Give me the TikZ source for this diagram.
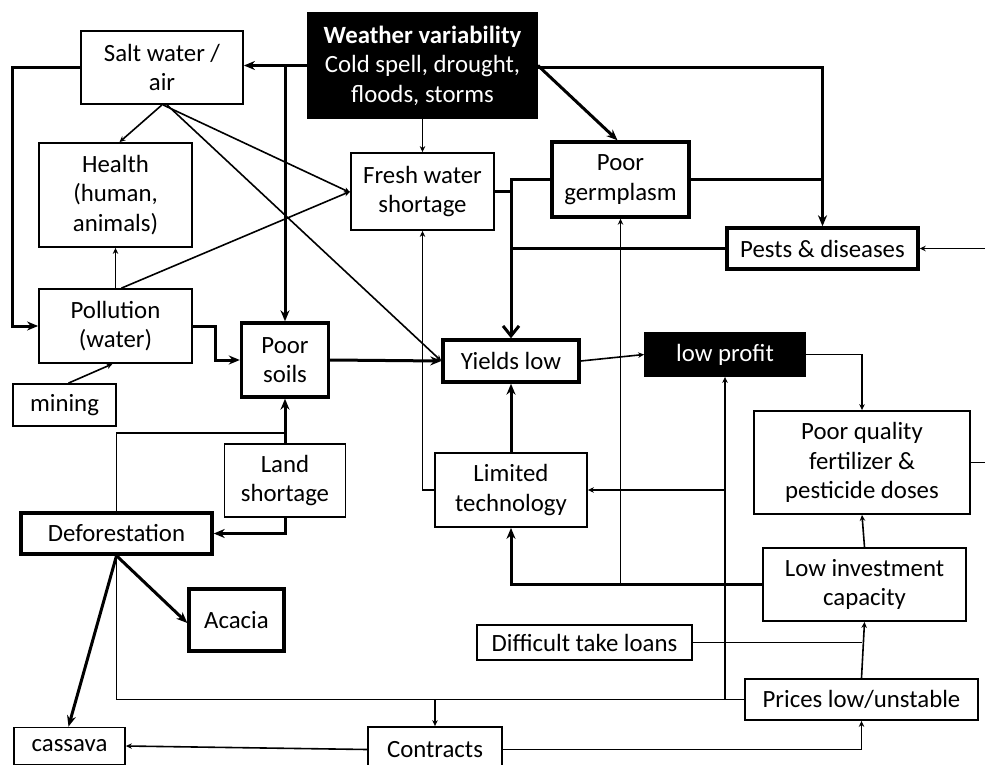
\documentclass[tikz,border=0pt]{standalone}
\usepackage{fontspec}
\setmainfont{Carlito}
\usetikzlibrary{arrows.meta,calc}
\pgfdeclarelayer{paper}
\pgfdeclarelayer{wires}
\pgfsetlayers{paper,wires,main}
\begin{document}
\begin{tikzpicture}[x=1pt,y=-1pt,
  box/.style={draw, line width=1.8pt, fill=white, align=center, inner sep=0pt, font=\fontsize{24.8}{29.5}\selectfont},
  boxk/.style={box, line width=3.4pt},
  blk/.style={box, fill=black, text=white},
  ln/.style={line width=1.6pt},
  lk/.style={line width=3pt},
  ah/.style={-{Stealth[length=6pt,width=5.5pt]}},
  ahk/.style={-{Stealth[length=11pt,width=9pt]}},
  ahv/.style={-{Straight Barb[length=10pt,width=16pt,line width=3pt]}}
]
\useasboundingbox (0,0) rectangle (985,765);
\begin{pgfonlayer}{paper}
\fill[white] (0,0) rectangle (985,765);
\end{pgfonlayer}

% nodes
\node[box, minimum width=162pt, minimum height=73pt] (salt) at (162,67.5) {Salt water /\\air};
\node[blk, minimum width=229pt, minimum height=105pt] (weather) at (422.5,65.5) {{\bfseries Weather variability}\\Cold spell, drought,\\floods, storms};
\node[box, minimum width=153pt, minimum height=104pt] (health) at (115.5,195) {Health\\(human,\\animals)};
\node[box, minimum width=143pt, minimum height=77pt] (fresh) at (422.5,191.5) {Fresh water\\shortage};
\node[boxk, minimum width=137pt, minimum height=75pt] (germ) at (620.5,179.5) {Poor\\germplasm};
\node[boxk, minimum width=191pt, minimum height=41pt] (pests) at (822.5,248.5) {Pests \& diseases};
\node[box, minimum width=153pt, minimum height=74pt] (pollution) at (115.5,326) {Pollution\\(water)};
\node[box, minimum width=103pt, minimum height=42pt] (mining) at (64.5,405) {mining};
\node[boxk, minimum width=87pt, minimum height=74pt] (soils) at (285,360) {Poor\\soils};
\node[boxk, minimum width=136pt, minimum height=42pt] (yields) at (511,361) {Yields low};
\node[blk, minimum width=160pt, minimum height=43pt] (profit) at (725,354.5) {low profit};
\node[box, minimum width=216pt, minimum height=103pt] (fert) at (862,462.5) {Poor quality\\fertilizer \&\\pesticide doses};
\node[box, minimum width=152pt, minimum height=74pt] (limtech) at (511,490) {Limited\\technology};
\node[box, minimum width=121pt, minimum height=73pt] (land) at (285,480.5) {Land\\shortage};
\node[boxk, minimum width=191pt, minimum height=41pt] (defor) at (116.5,533.5) {Deforestation};
\node[boxk, minimum width=95pt, minimum height=62pt] (acacia) at (236.5,620) {Acacia};
\node[box, minimum width=203pt, minimum height=73pt] (lowinv) at (864.5,584.5) {Low investment\\capacity};
\node[box, minimum width=215pt, minimum height=35pt] (loans) at (584.5,642.5) {Difficult take loans};
\node[box, minimum width=233pt, minimum height=41pt] (prices) at (861.5,699.5) {Prices low/unstable};
\node[box, minimum width=111pt, minimum height=37pt] (cassava) at (69.5,746) {cassava};
\node[box, minimum width=134pt, minimum height=45pt] (contracts) at (435,749.5) {Contracts};

\coordinate (ls) at (285,433);
\coordinate (rtop) at (992,248.5);
\coordinate (rbot) at (992,462.5);

\begin{pgfonlayer}{wires}
% weather
\draw[lk,ahk] (weather.west) -- (weather.west -| salt.east);
\draw[lk,ahk] (weather.west -| soils.north) -- (soils.north);
\draw[ln,ah] (weather.south) -- (fresh.north);
\draw[lk,ahk] (weather.east) -- ([xshift=-3pt]germ.north);
\draw[lk,ahk] ([yshift=-2pt]weather.east) -| (pests.north);
% salt water
\draw[lk,ahk] (salt.west) -- ++(-68,0) |- (pollution.west);
\draw[ln,ah] (salt.south) -- ([xshift=4pt]health.north);
\draw[ln,ah] ([xshift=1pt]salt.south) -- ([yshift=-1pt]fresh.west);
\draw[ln,ah] ([xshift=5pt]salt.south) -- (yields.west);
% pollution
\draw[ln,ah] (pollution.north) -- (health.south);
\draw[ln,ah] ([xshift=6pt]pollution.north) -- (fresh.west);
\draw[ln,ah] ([xshift=4pt]mining.north) -- ([xshift=-3pt]pollution.south);
\draw[lk,ahk] (pollution.east) -- ++(23,0) |- (soils.west);
\draw[lk,ahk] (soils.east) -- (yields.west);
% into yields from above
\draw[lk] (fresh.east) -- (fresh.east -| yields.north);
\draw[lk,ahv] (germ.west) -| (yields.north);
\draw[lk] (pests.west) -- (pests.west -| yields.north);
\draw[lk] (germ.east) -- (germ.east -| pests.north);
\draw[ln,ah] (rbot) -- (rtop) -- (pests.east);
\draw[ln] (fert.east) -- (rbot);
% profit
\draw[ln,ah] (yields.east) -- (profit.west);
\draw[ln,ah] (profit.east) -| (fert.north);
% limited technology
\draw[lk,ahk] (limtech.north) -- (yields.south);
\draw[ln,ah] (limtech.west) -| (fresh.south);
\draw[ln,ah] (prices.west -| profit.south) -- (profit.south);
\draw[ln,ah] (limtech.east -| profit.south) -- (limtech.east);
% low investment
\draw[lk,ahk] (lowinv.west) -| (limtech.south);
\draw[ln,ah] (lowinv.west -| germ.south) -- (germ.south);
\draw[ln,ah] (lowinv.north) -- (fert.south);
\draw[ln,ah] (prices.north) -- (lowinv.south);
\draw[ln] (loans.east) -- (loans.east -| prices.north);
% prices, contracts
\draw[ln] (prices.west) -| (defor.south);
\draw[ln] (defor.north) |- (ls);
\draw[ln,ah] (prices.west -| contracts.north) -- (contracts.north);
\draw[ln,ah] (contracts.east) -| (prices.south);
\draw[ln,ah] (contracts.west) -- (cassava.east);
% deforestation, land
\draw[lk,ahk] (defor.south) -- ([xshift=-1pt]cassava.north);
\draw[lk,ahk] (defor.south) -- ([yshift=-3pt]acacia.west);
\draw[lk,ahk] (land.south) |- (defor.east);
\draw[lk,ahk] (land.north) -- (soils.south);
\end{pgfonlayer}
\end{tikzpicture}
\end{document}
